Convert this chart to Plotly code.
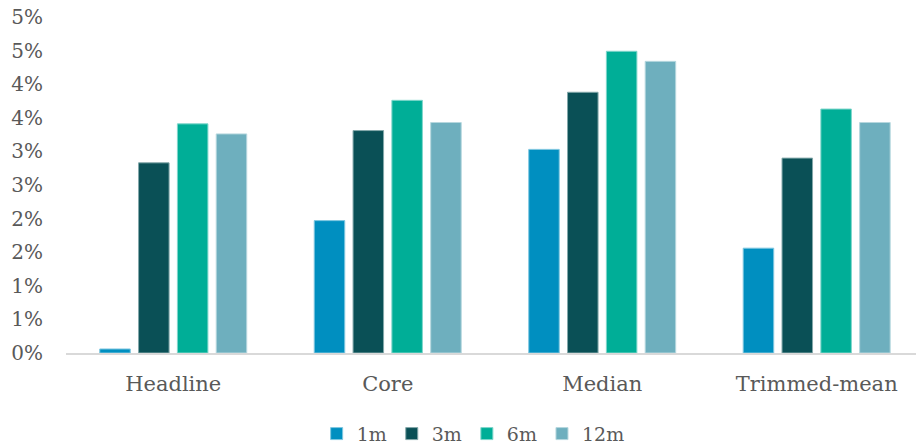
import plotly.graph_objects as go

# Inflation measures, annualised change over different horizons (%)
categories = ["Headline", "Core", "Median", "Trimmed-mean"]
series_names = ["1m", "3m", "6m", "12m"]
val_1m = [0.06, 1.97, 3.03, 1.56]
val_3m = [2.83, 3.31, 3.88, 2.90]
val_6m = [3.41, 3.76, 4.49, 3.63]
val_12m = [3.26, 3.43, 4.34, 3.43]
series_values = [val_1m, val_3m, val_6m, val_12m]
colors = ["#008FC0", "#0A5056", "#00AE97", "#6EAFBE"]
edge_colors = ["#7FC7E0", "#84A8AA", "#7FD6CB", "#B6D7DE"]

# y-axis ticks every half point, labelled with whole-percent rounding
tick_vals = [i * 0.5 for i in range(11)]
tick_text = ["0%", "1%", "1%", "2%", "2%", "3%", "3%", "4%", "4%", "5%", "5%"]

font_family = "DejaVu Serif"
label_color = "#595959"

fig = go.Figure()
for name, vals, c, ec in zip(series_names, series_values, colors, edge_colors):
    fig.add_trace(go.Bar(
        x=categories, y=vals, name=name,
        marker=dict(color=c, line=dict(color=ec, width=1)),
    ))

fig.update_layout(
    width=916, height=445,
    margin=dict(l=66, r=0, t=17, b=92, autoexpand=False),
    paper_bgcolor="white", plot_bgcolor="white",
    barmode="group", bargap=0.276, bargroupgap=0.214,
    font=dict(family=font_family, color=label_color, size=19),
    showlegend=True,
    legend=dict(
        orientation="h", x=0.479, xanchor="center", xref="paper",
        y=0.068, yanchor="top", yref="container",
        font=dict(family=font_family, size=19, color=label_color),
        itemwidth=30, traceorder="normal",
    ),
    xaxis=dict(
        range=[-0.5, 3.463], automargin=False,
        showgrid=False, zeroline=False,
        showline=True, linecolor="#D9D9D9", linewidth=2,
        ticks="", tickfont=dict(size=21, color=label_color),
        ticklabelstandoff=11,
    ),
    yaxis=dict(
        range=[0, 5.0], automargin=False,
        tickvals=tick_vals, ticktext=tick_text,
        showgrid=False, zeroline=False, showline=False,
        ticks="", tickfont=dict(size=20, color=label_color),
        ticklabelstandoff=22,
    ),
)

fig.write_html("out.html")
